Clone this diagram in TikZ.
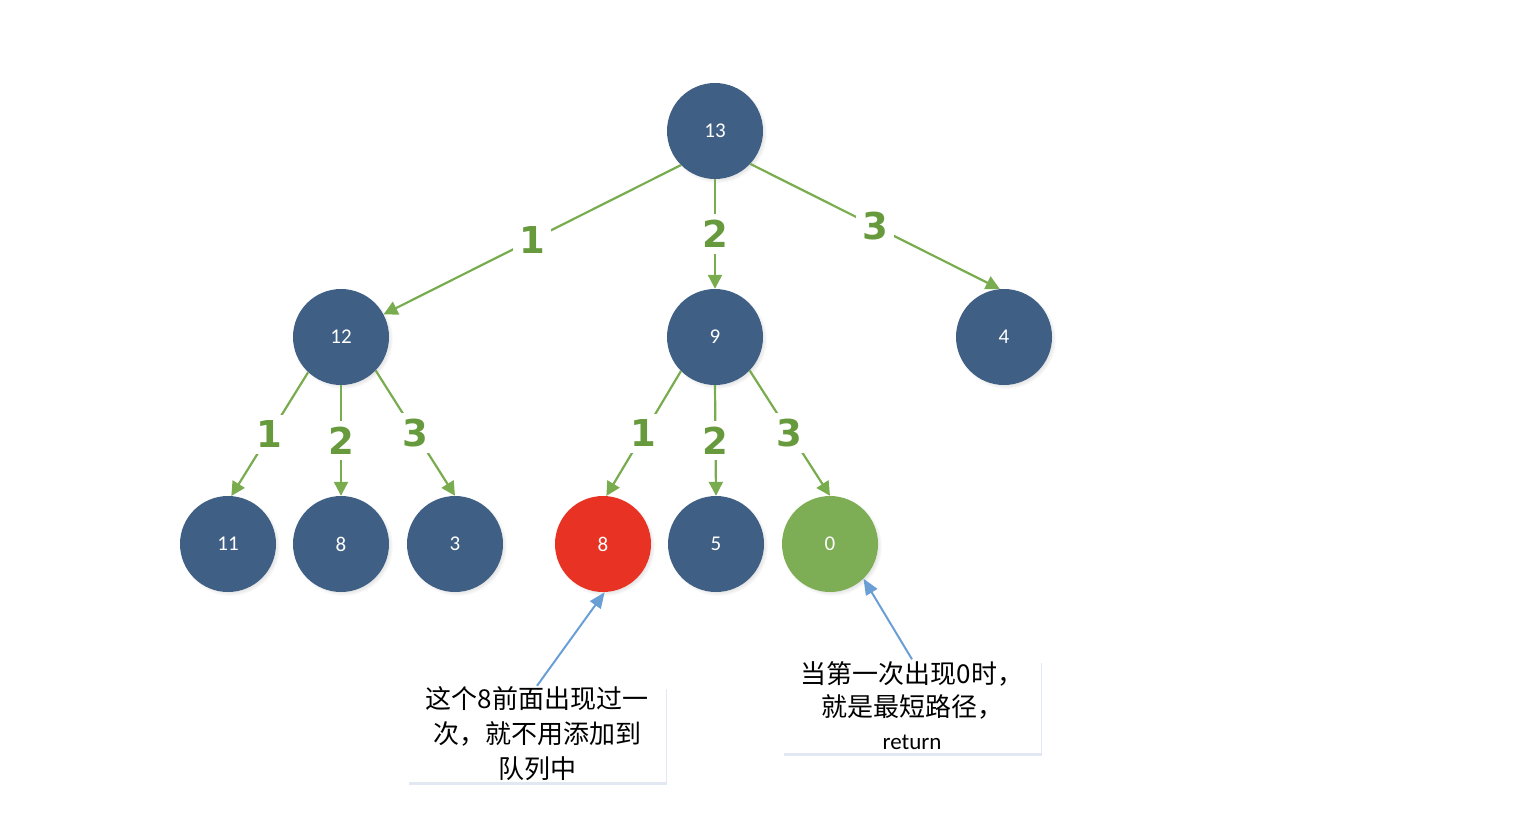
\documentclass[tikz,border=0pt]{standalone}
\usepackage{fontspec}
\setmainfont{Carlito}
\newfontfamily\cjk{Noto Sans CJK SC}
\newfontfamily\labelfont{DejaVu Sans}
\usetikzlibrary{arrows.meta}
\usetikzlibrary{shadows}

\definecolor{nodeblue}{HTML}{3F5F85}
\definecolor{nodered}{HTML}{E83324}
\definecolor{nodegreen}{HTML}{7DAD55}
\definecolor{edgegreen}{HTML}{79AC4F}
\definecolor{labelgreen}{HTML}{679A3C}
\definecolor{notearrow}{HTML}{6A9FD6}
\definecolor{noteshadow}{HTML}{E2E8F1}

\begin{document}
\begin{tikzpicture} [x=1pt, y=1pt,
        vertex/.style={circle, minimum size=96pt, inner sep=0pt, fill=nodeblue, text=white,
            font=\fontsize{21}{21}\selectfont,
            circular drop shadow={shadow xshift=2pt, shadow yshift=-2pt, shadow scale=1.04, opacity=0.3}},
        weight/.style={fill=white, inner sep=6pt, text=labelgreen,
            font=\labelfont\bfseries\fontsize{37}{37}\selectfont},
        note/.style={rectangle, fill=white, text width=258pt, align=center, inner xsep=0pt,
            inner ysep=0pt, font=\cjk\fontsize{26}{35}\selectfont,
            drop shadow={shadow xshift=1pt, shadow yshift=-3pt, fill=noteshadow, opacity=1}}]
            \useasboundingbox (0,0) rectangle (1522,-814);

            \node[vertex] (n13) at (715,-131)  {13};
            \node[vertex] (n12) at (341,-337)  {12};
            \node[vertex] (n9)  at (715,-337)  {9};
            \node[vertex] (n4)  at (1004,-337) {4};
            \node[vertex] (n11) at (228,-544)  {11};
            \node[vertex] (n8)  at (341,-544)  {8};
            \node[vertex] (n3)  at (455,-544)  {3};
            \node[vertex, fill=nodered]   (r8) at (603,-544) {8};
            \node[vertex] (n5)  at (716,-544)  {5};
            \node[vertex, fill=nodegreen] (n0) at (830,-544) {0};

            \node[note, minimum height=96pt] (t1) at (537,-734) {这个8前面出现过一\\次，就不用添加到\\队列中};
            \node[note, minimum height=93pt, font=\cjk\fontsize{26}{33}\selectfont] (t2) at (912,-706)
                {当第一次出现0时，\\就是最短路径，\\{\rmfamily\fontsize{23}{33}\selectfont return}};

            \begin{scope}[draw=edgegreen, line width=2.2pt, -{Triangle[length=14pt, width=14pt]}]
                \draw (n13.225) -- node[weight] {1} (n12.28);
                \draw (n13.south) -- node[weight] {2} (n9.north);
                \draw (n13.-43) -- node[weight] {3} (n4.95);
                \draw (n12.227) -- node[weight] {1} (n11.86);
                \draw (n12.south) -- node[weight] {2} (n8.north);
                \draw (n12.-44) -- node[weight] {3} (n3.north);
                \draw (n9.225) -- node[weight] {1} (r8.86);
                \draw (n9.south) -- node[weight] {2} (n5.north);
                \draw (n9.-44) -- node[weight] {3} (n0.north);
            \end{scope}

            \begin{scope}[draw=notearrow, line width=2pt, -{Triangle[length=16pt, width=13pt]}]
                \draw (t1.north) -- (r8.-88);
                \draw (t2.north) -- (n0.-46);
            \end{scope}
        \end{tikzpicture}
\end{document}
